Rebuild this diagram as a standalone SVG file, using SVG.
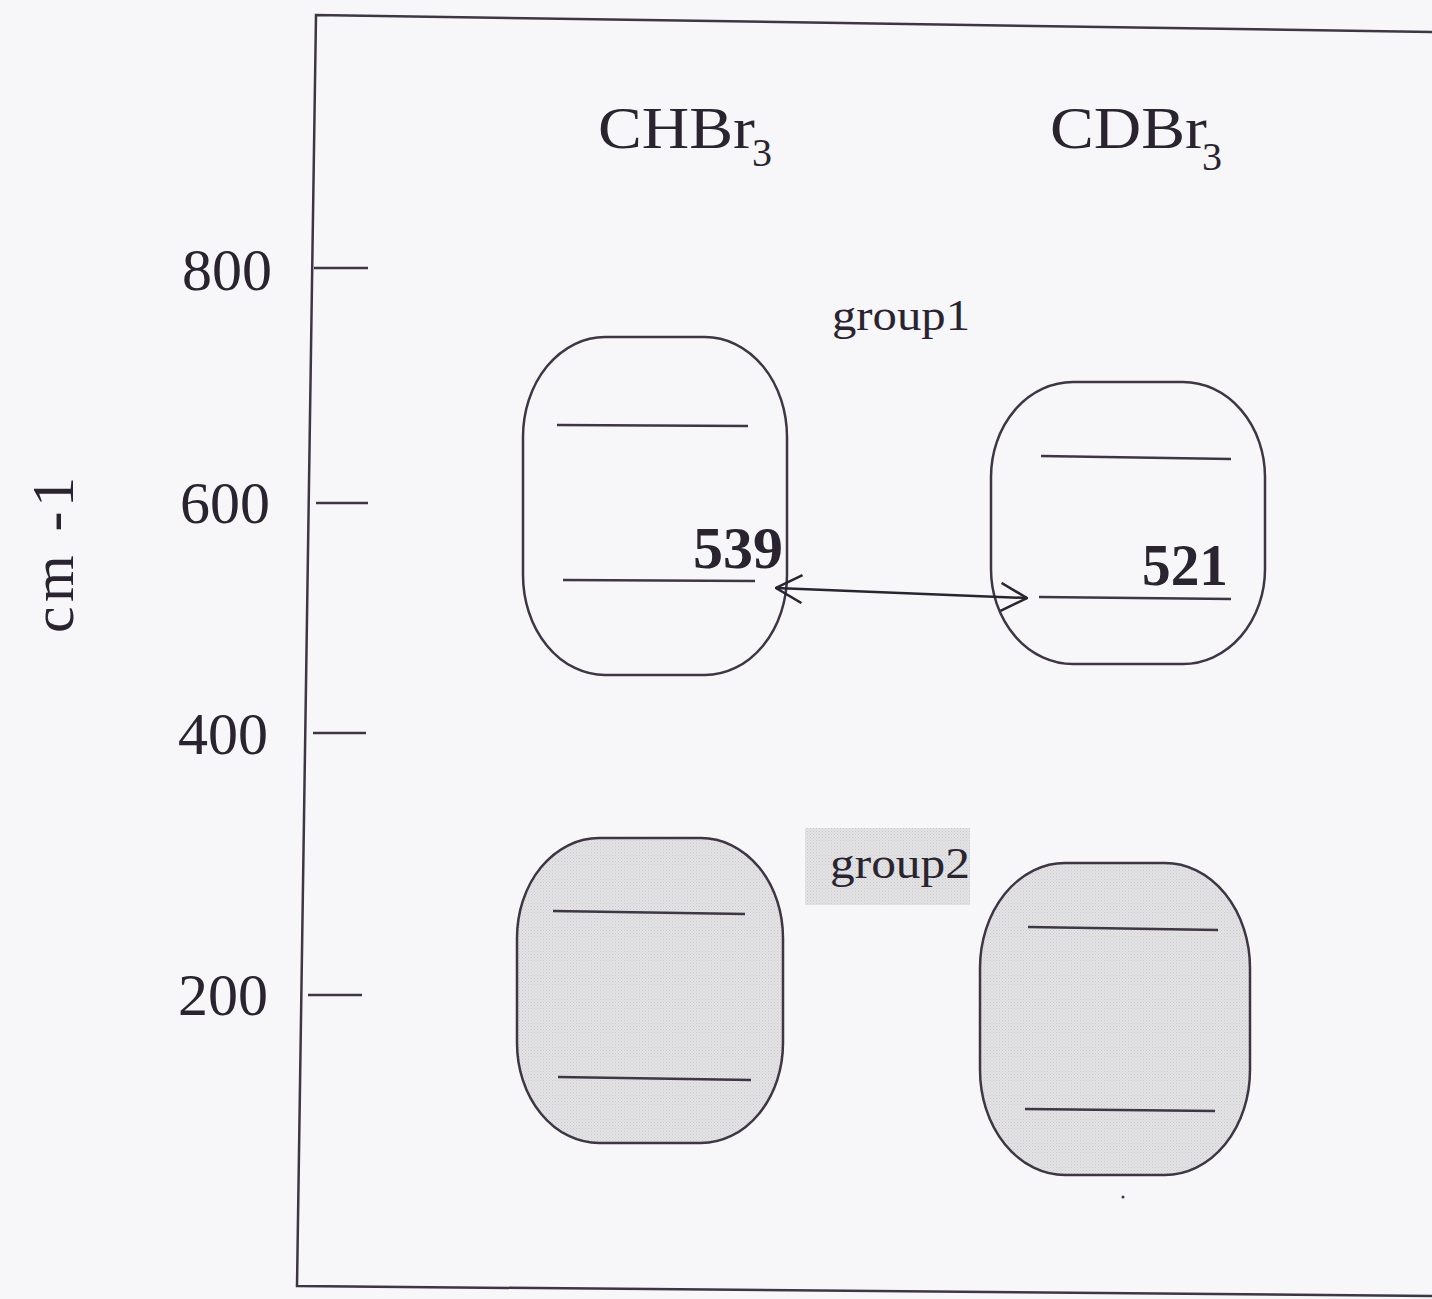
<svg xmlns="http://www.w3.org/2000/svg" width="1432" height="1299" viewBox="0 0 1432 1299">
  <style>
    .ln { stroke: #3e3545; stroke-width: 2.5; fill: none; }
    .box { stroke: #3e3545; stroke-width: 2.5; }
    .open { fill: none; }
    .shaded { fill: url(#dots); }
    .t { font-family: "Liberation Serif", "Times New Roman", serif; fill: #2a2430; }
    .big { font-size: 60px; }
    .lbl { font-size: 44px; }
    .num { font-size: 60px; font-weight: bold; }
  </style>
  <defs>
    <pattern id="dots" width="3" height="3" patternUnits="userSpaceOnUse">
      <rect width="3" height="3" fill="#e4e4e6"/>
      <rect width="1" height="1" fill="#c9c9cc"/>
      <rect x="1.5" y="1.5" width="1" height="1" fill="#cfcfd2"/>
    </pattern>
    <marker id="vee" viewBox="0 0 30 30" refX="29" refY="15" markerWidth="30" markerHeight="30" markerUnits="userSpaceOnUse" orient="auto-start-reverse">
      <path d="M3,1 L29,15 L3,29" fill="none" stroke="#2a2430" stroke-width="2.5"/>
    </marker>
  </defs>

  <rect width="1432" height="1299" fill="#f7f7f9"/>

  <!-- plot frame -->
  <path class="ln" d="M1432,32 L316,15 L297,1286 L1432,1296"/>

  <!-- axis ticks and values -->
  <g id="axis">
    <line class="ln" x1="314" y1="268" x2="368" y2="268"/>
    <line class="ln" x1="316" y1="503" x2="368" y2="503"/>
    <line class="ln" x1="313" y1="733" x2="366" y2="733"/>
    <line class="ln" x1="308" y1="995" x2="362" y2="995"/>
    <text class="t big" x="272" y="290" text-anchor="end">800</text>
    <text class="t big" x="270" y="523" text-anchor="end">600</text>
    <text class="t big" x="268" y="754" text-anchor="end">400</text>
    <text class="t big" x="268" y="1015" text-anchor="end">200</text>
    <text class="t big" transform="translate(73,555) rotate(-90)" text-anchor="middle" textLength="156">cm  -1</text>
  </g>

  <!-- column headings -->
  <g id="head-chbr3">
    <text class="t big" x="598" y="148" textLength="157" lengthAdjust="spacingAndGlyphs">CHBr</text>
    <text class="t" x="752" y="166" font-size="40">3</text>
  </g>
  <g id="head-cdbr3">
    <text class="t big" x="1050" y="148" textLength="157" lengthAdjust="spacingAndGlyphs">CDBr</text>
    <text class="t" x="1202" y="170" font-size="40">3</text>
  </g>

  <!-- group 1 -->
  <g id="group1-label">
    <text class="t lbl" x="832" y="330" textLength="138" lengthAdjust="spacingAndGlyphs">group1</text>
  </g>
  <g id="g1-chbr3">
    <rect class="box open" x="523" y="337" width="264" height="338" rx="82" ry="100"/>
    <line class="ln" x1="557" y1="425" x2="748" y2="426"/>
    <line class="ln" x1="563" y1="580" x2="755" y2="581"/>
    <text class="t num" x="693" y="568" textLength="90" lengthAdjust="spacingAndGlyphs">539</text>
  </g>
  <g id="g1-cdbr3">
    <rect class="box open" x="991" y="382" width="274" height="282" rx="82" ry="95"/>
    <line class="ln" x1="1041" y1="456" x2="1231" y2="459"/>
    <line class="ln" x1="1039" y1="597" x2="1231" y2="599"/>
    <text class="t num" x="1142" y="585" textLength="86" lengthAdjust="spacingAndGlyphs">521</text>
  </g>

  <!-- group 2 -->
  <g id="group2-label">
    <rect x="805" y="828" width="165" height="77" fill="url(#dots)"/>
    <text class="t lbl" x="830" y="878" textLength="140" lengthAdjust="spacingAndGlyphs">group2</text>
  </g>
  <g id="g2-chbr3">
    <rect class="box shaded" x="517" y="838" width="266" height="305" rx="82" ry="100"/>
    <line class="ln" x1="553" y1="911" x2="745" y2="914"/>
    <line class="ln" x1="558" y1="1077" x2="751" y2="1080"/>
  </g>
  <g id="g2-cdbr3">
    <rect class="box shaded" x="980" y="863" width="270" height="312" rx="85" ry="105"/>
    <line class="ln" x1="1028" y1="927" x2="1218" y2="930"/>
    <line class="ln" x1="1025" y1="1109" x2="1215" y2="1111"/>
  </g>

  <!-- connectors -->
  <g id="connectors">
    <line x1="776" y1="588" x2="1027" y2="598" stroke="#2a2430" stroke-width="2.5" marker-start="url(#vee)" marker-end="url(#vee)"/>
  </g>

  <circle cx="1123" cy="1197" r="1.5" fill="#3e3545"/>
</svg>
